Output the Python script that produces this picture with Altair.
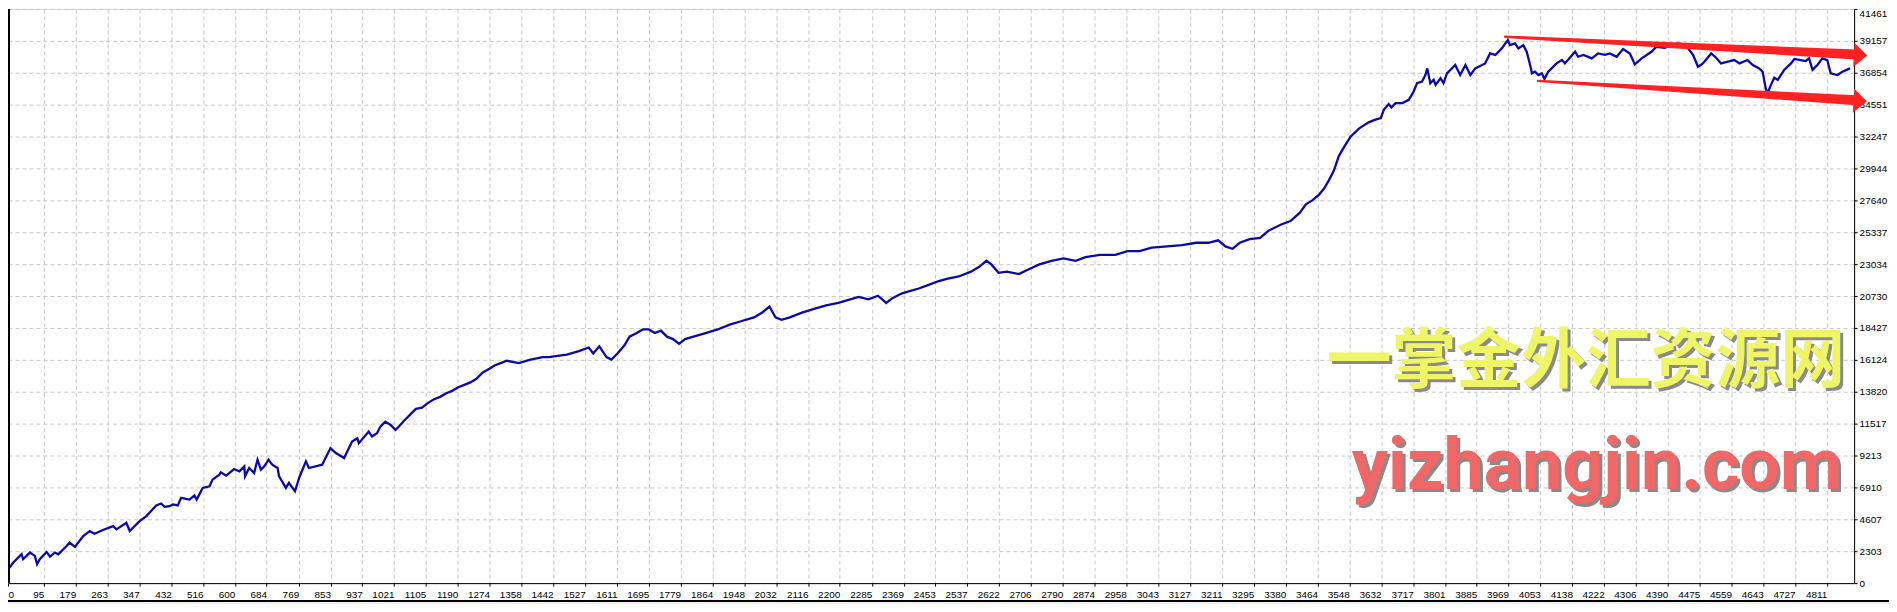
import altair as alt
import pandas as pd

# ---- equity curve (trade number, equity) ----
trade_idx = [
    1, 14, 36, 40, 58, 71, 77, 84, 102, 111, 124, 133, 155, 163, 177, 199, 216, 229, 251, 278,
    287, 313, 322, 348, 366, 392, 405, 414, 427, 436, 449, 458, 480, 493, 499, 515, 533, 541, 559, 563,
    577, 598, 612, 625, 627, 638, 651, 660, 669, 678, 689, 699, 713, 717, 730, 735, 743, 759, 770, 788,
    796, 831, 853, 867, 875, 889, 910, 924, 928, 954, 963, 976, 985, 998, 1012, 1025, 1034,
    1047, 1063, 1079, 1095, 1111, 1127, 1143, 1159, 1175, 1191, 1207, 1223, 1239, 1255, 1271, 1287,
    1303, 1319, 1351, 1382, 1414, 1430, 1478, 1510, 1536, 1548, 1564, 1583, 1596, 1612, 1631, 1644,
    1663, 1679, 1695, 1711, 1727, 1743, 1759, 1775, 1791, 1813, 1845, 1877, 1909, 1941, 1973, 1995,
    2014, 2030, 2046, 2068, 2100, 2132, 2164, 2196, 2228, 2250, 2276, 2301, 2323, 2339, 2365, 2387,
    2409, 2435, 2460, 2483, 2515, 2547, 2569, 2588, 2601, 2620, 2642, 2674, 2700, 2728, 2760, 2792,
    2824, 2850, 2888, 2929, 2961, 2993, 3025, 3066, 3105, 3143, 3175, 3201, 3220, 3239, 3258, 3284,
    3312, 3334, 3366, 3392, 3417, 3433, 3449, 3468, 3481, 3494, 3507, 3520, 3535, 3551, 3574, 3599,
    3615,
    3631, 3639, 3652, 3659, 3670, 3688, 3705, 3718, 3727, 3740, 3749, 3754, 3762, 3771, 3776, 3789,
    3797, 3806, 3828, 3841, 3855, 3868, 3881, 3899, 3907, 3920, 3934,
    3951, 3967, 3973, 3986, 3995, 4008, 4017, 4026, 4031, 4039, 4048, 4057, 4064, 4074, 4096, 4110,
    4118, 4145, 4153, 4167, 4189, 4206, 4224, 4237, 4255, 4272, 4290, 4303, 4321, 4347, 4360, 4382,
    4400, 4417, 4430, 4444, 4457, 4470, 4483, 4505, 4518, 4531, 4549, 4566, 4580, 4601, 4615, 4632,
    4641, 4650, 4656, 4663, 4672, 4681, 4698, 4716, 4725, 4742, 4755, 4764, 4773, 4786, 4799, 4812,
    4821, 4839, 4852, 4863, 4872,
]
equity = [
    1006, 1487, 2084, 1725, 2204, 1964, 1365, 1725, 2252, 1917, 2204, 2084, 2683, 2922, 2611, 3402, 3761, 3569, 3833, 4120,
    3881, 4360, 3761, 4480, 4839, 5605, 5749, 5510, 5557, 5677, 5605, 6156, 6036, 6324, 6036, 6875, 6994, 7473, 7833, 7999,
    7761, 8240, 8072, 8431, 7713, 8311, 7953, 8911, 8192, 8431, 8911, 8551, 8311, 7713, 7114, 6875, 7234, 6633, 7593, 8790,
    8311, 8551, 9751, 9392, 9270, 9032, 10226, 10466, 10106, 10945, 10585, 10825, 11304, 11662, 11424, 11065, 11304,
    11710, 12146, 12580, 12667, 13015, 13276, 13450, 13710, 13884, 14145, 14319, 14492, 14755, 15189, 15449, 15710,
    15884, 16058, 15884, 16145, 16319, 16319, 16493, 16753, 17014, 16580, 17101, 16319, 16145, 16580, 17188, 17797,
    18057, 18318, 18318, 18057, 18231, 17797, 17623, 17275, 17623, 17797, 18057, 18318, 18666, 18927, 19188, 19536,
    19970, 19188, 19014, 19188, 19536, 19796, 20057, 20231, 20492, 20666, 20492, 20753, 20231, 20579, 20927, 21100,
    21274, 21535, 21796, 21970, 22144, 22492, 22839, 23274, 23013, 22405, 22492, 22318, 22665, 23013, 23274, 23448,
    23274, 23535, 23709, 23709, 23969, 23969, 24230, 24317, 24404, 24578, 24578, 24752, 24317, 24143, 24578, 24839,
    24926, 25447, 25882, 26143, 26751, 27358, 27621, 28056, 28490, 29099, 29794, 30838, 31533, 32229, 32837, 33272,
    33446,
    33580, 34180, 34590, 34350, 34660, 34660, 34900, 35500, 36100, 36220, 36690, 37170, 36100, 36340, 35980, 36460,
    36100, 36810, 37410, 36690, 37410, 36690, 37170, 37410, 37530, 38250, 38140,
    38610, 39210, 38850, 38970, 38610, 38850, 38370, 37410, 36810, 36930, 36690, 36810, 36410, 36930, 37530, 37770,
    37530, 38370, 38010, 38140, 37890, 38250, 38140, 38250, 38010, 38570, 38250, 37460, 37890, 38370, 38730, 38660,
    38850, 38970, 38900, 38610, 38140, 37290, 37530, 38250, 37940, 37530, 37650, 37770, 37530, 37770, 37410, 37170,
    36930, 35620, 35500, 35980, 36500, 36340, 37060, 37530, 37850, 37770, 37700, 37890, 37060, 37410, 37890, 37770,
    36810, 36690, 36930, 37060, 37170,
]

x_ticks = [0, 95, 179, 263, 347, 432, 516, 600, 684, 769, 853, 937, 1021, 1105, 1190, 1274, 1358, 1442,
           1527, 1611, 1695, 1779, 1864, 1948, 2032, 2116, 2200, 2285, 2369, 2453, 2537, 2622, 2706, 2790,
           2874, 2958, 3043, 3127, 3211, 3295, 3380, 3464, 3548, 3632, 3717, 3801, 3885, 3969, 4053, 4138,
           4222, 4306, 4390, 4475, 4559, 4643, 4727, 4811]
y_ticks = [0, 2303, 4607, 6910, 9213, 11517, 13820, 16124, 18427, 20730, 23034, 25337, 27640, 29944,
           32247, 34551, 36854, 39157, 41461]

# trend arrows (annotation): start, shaft end, head centre, in data units
arrow_name = ["upper", "lower"]
arrow_x0 = [3960, 4047]
arrow_y0 = [39451, 36267]
arrow_x1 = [4888, 4888]
arrow_y1 = [38172, 34866]
arrow_hx = [4900, 4899]
arrow_hy = [38122, 34816]

watermark_cn = "一掌金外汇资源网"
watermark_en = "yizhangjin.com"

W, H = 1852, 576
X_MAX, Y_MAX = 4883, 41461

df = pd.DataFrame({"trade": trade_idx, "equity": equity})

xs = alt.Scale(domain=[0, X_MAX], nice=False, zero=False)
ys = alt.Scale(domain=[0, Y_MAX], nice=False, zero=False)

LABEL_FONT = "Liberation Sans"

x_axis = alt.Axis(
    values=x_ticks, tickCount=500, format="d", orient="bottom", title=None,
    grid=True, gridColor="#c8c8c8", gridDash=[4, 3], gridWidth=1,
    domain=True, domainColor="#000000", domainWidth=1,
    ticks=True, tickColor="#000000", tickSize=3,
    labelAlign={"condition": {"test": "datum.value === 0", "value": "left"}, "value": "right"},
    labelBaseline="top", labelPadding=3, labelFont=LABEL_FONT, labelFontSize=10,
    labelColor="#000000", labelOverlap=False, labelFlush=False, labelBound=False,
)
y_axis = alt.Axis(
    values=y_ticks, tickCount=500, format="d", orient="right", title=None,
    grid=True, gridColor="#c8c8c8", gridDash=[4, 3], gridWidth=1,
    domain=True, domainColor="#000000", domainWidth=1,
    ticks=True, tickColor="#000000", tickSize=3,
    labelAlign="left",
    labelBaseline={"condition": {"test": "datum.value > 41000", "value": "top"}, "value": "middle"},
    labelPadding=2, labelFont=LABEL_FONT,
    labelFontSize=10, labelColor="#000000", labelOverlap=False, labelFlush=False, labelBound=False,
)

line = alt.Chart(df).mark_line(color="#0a0aaa", strokeWidth=2.3, clip=False).encode(
    x=alt.X("trade:Q", scale=xs, axis=x_axis),
    y=alt.Y("equity:Q", scale=ys, axis=y_axis),
)

left_border = alt.Chart(df).mark_rule(color="#000000", strokeWidth=1.5).encode(
    x=alt.value(0.75), y=alt.value(0), y2=alt.value(H)
)
bottom_band = alt.Chart(df).mark_rect(color="#f0f0f0").encode(
    x=alt.value(0), x2=alt.value(W + 40), y=alt.value(H + 18), y2=alt.value(H + 30)
)
bottom_rule = alt.Chart(df).mark_rule(color="#000000", strokeWidth=1.2).encode(
    x=alt.value(0), x2=alt.value(W + 40), y=alt.value(H + 17.5)
)

arr = pd.DataFrame({
    "name": arrow_name * 2,
    "x": arrow_x0 + arrow_x1,
    "y": arrow_y0 + arrow_y1,
    "w": [2.5, 2.5, 10, 10],
    "o": [0, 0, 1, 1],
})
shaft = alt.Chart(arr).mark_trail(color="#ff2222", clip=False).encode(
    x=alt.X("x:Q", scale=xs), y=alt.Y("y:Q", scale=ys),
    size=alt.Size("w:Q", scale=None, legend=None), detail="name:N", order="o:Q",
)
heads = pd.DataFrame({"x": arrow_hx, "y": arrow_hy})
head = alt.Chart(heads).mark_point(
    shape="M0.55,0L-0.55,-1L-0.55,1Z", size=600, filled=True, color="#ff2222",
    opacity=1, angle=3, strokeWidth=0, clip=False,
).encode(x=alt.X("x:Q", scale=xs), y=alt.Y("y:Q", scale=ys))


def wm(text, x, y, size, color, font):
    d = pd.DataFrame({"t": [text]})
    base = alt.Chart(d)
    sh = base.mark_text(font=font, fontSize=size, fontWeight="bold", color="#8a8a8a",
                        align="center", baseline="alphabetic", dx=3, dy=3).encode(
        x=alt.value(x), y=alt.value(y), text="t:N")
    fg = base.mark_text(font=font, fontSize=size, fontWeight="bold", color=color,
                        align="center", baseline="alphabetic").encode(
        x=alt.value(x), y=alt.value(y), text="t:N")
    return sh + fg


wm_cn = wm(watermark_cn, 1583, 374, 65, "#eef566", "Noto Sans CJK SC")
wm_en = wm(watermark_en, 1594, 482, 72, "#ef6767", "Roboto")

chart = alt.layer(
    bottom_band, bottom_rule, wm_cn, wm_en, line, left_border, shaft, head
).properties(
    width=W, height=H,
    padding={"left": 0, "top": 0, "right": 35, "bottom": 20},
    autosize=alt.AutoSizeParams(type="none"),
).configure_view(stroke=None).configure(background="#ffffff")

chart.save("out.html", embed_options={"renderer": "svg", "actions": False})
